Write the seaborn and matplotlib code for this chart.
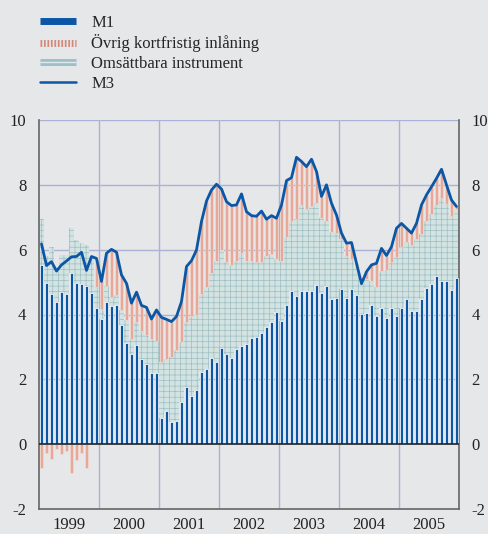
import numpy as np
import matplotlib
matplotlib.use("Agg")
import matplotlib.pyplot as plt
from matplotlib.lines import Line2D
import seaborn as sns

# monthly, Jan 1999 - Dec 2005, annual percentage change
years = ["1999", "2000", "2001", "2002", "2003", "2004", "2005"]

m1 = [5.53, 4.96, 4.64, 4.40, 4.68, 4.62, 5.29, 4.98, 4.94, 4.89, 4.66, 4.21,
      3.86, 4.38, 4.27, 4.30, 3.68, 3.11, 2.77, 3.06, 2.62, 2.47, 2.19, 2.21,
      0.82, 1.01, 0.68, 0.70, 1.29, 1.75, 1.49, 1.68, 2.24, 2.32, 2.65, 2.53,
      2.96, 2.79, 2.65, 2.93, 3.03, 3.08, 3.29, 3.32, 3.42, 3.60, 3.76, 4.07,
      3.81, 4.28, 4.71, 4.57, 4.74, 4.74, 4.73, 4.91, 4.65, 4.89, 4.47, 4.52,
      4.79, 4.52, 4.79, 4.60, 4.03, 4.05, 4.30, 3.96, 4.19, 3.88, 4.21, 3.94,
      4.21, 4.47, 4.12, 4.12, 4.48, 4.81, 4.94, 5.19, 5.02, 5.04, 4.76, 5.14]

omsattbara = [1.41, 0.83, 1.45, 1.08, 1.16, 1.23, 1.37, 1.32, 1.26, 1.24, 1.13, 0.63,
              0.30, 0.51, 0.28, 0.30, 0.46, 0.72, 0.48, 0.70, 0.87, 0.90, 1.06, 0.98,
              1.73, 1.61, 2.02, 2.21, 1.85, 2.03, 2.45, 2.31, 2.40, 2.52, 2.62, 3.13,
              3.03, 2.82, 2.88, 2.73, 2.86, 2.58, 2.37, 2.29, 2.21, 2.22, 2.10, 1.64,
              1.85, 2.12, 2.18, 2.38, 2.64, 2.51, 2.62, 2.52, 2.32, 2.00, 2.07, 1.99,
              1.54, 1.27, 0.92, 0.83, 0.92, 1.05, 0.72, 0.88, 1.15, 1.50, 1.42, 1.82,
              1.88, 1.78, 2.01, 2.21, 2.01, 2.08, 2.15, 2.19, 2.56, 2.36, 2.28, 2.11]

ovrig = [-0.74, -0.28, -0.46, -0.15, -0.30, -0.20, -0.88, -0.50, -0.28, -0.75, 0.00, 0.89,
         0.86, 1.00, 1.46, 1.32, 1.08, 1.13, 1.10, 0.93, 0.79, 0.85, 0.61, 0.95,
         1.36, 1.23, 1.08, 1.03, 1.26, 1.70, 1.72, 2.00, 2.23, 2.66, 2.57, 2.36,
         1.88, 1.87, 1.83, 1.72, 1.83, 1.51, 1.39, 1.42, 1.56, 1.12, 1.19, 1.26,
         1.72, 1.73, 1.33, 1.90, 1.34, 1.31, 1.44, 0.98, 0.67, 1.11, 0.89, 0.56,
         0.18, 0.41, 0.51, 0.15, 0.00, 0.22, 0.51, 0.74, 0.70, 0.44, 0.46, 0.90,
         0.72, 0.41, 0.38, 0.48, 0.89, 0.80, 0.85, 0.82, 0.90, 0.60, 0.49, 0.08]

m3 = [6.18, 5.51, 5.63, 5.34, 5.53, 5.65, 5.78, 5.79, 5.92, 5.36, 5.79, 5.73,
      5.02, 5.89, 6.01, 5.92, 5.22, 4.96, 4.35, 4.69, 4.28, 4.22, 3.86, 4.14,
      3.91, 3.85, 3.78, 3.94, 4.40, 5.48, 5.66, 5.99, 6.87, 7.50, 7.84, 8.02,
      7.87, 7.48, 7.36, 7.38, 7.72, 7.17, 7.05, 7.03, 7.19, 6.94, 7.05, 6.97,
      7.38, 8.13, 8.22, 8.85, 8.72, 8.56, 8.79, 8.41, 7.64, 8.00, 7.43, 7.07,
      6.51, 6.20, 6.22, 5.58, 4.95, 5.32, 5.53, 5.58, 6.04, 5.82, 6.09, 6.66,
      6.81, 6.66, 6.51, 6.81, 7.38, 7.69, 7.94, 8.20, 8.48, 8.00, 7.53, 7.33]

bg = "#e6e7e9"
blue = "#0b57a6"
salmon = "#e6a999"
darkred = "#c8553f"
teal = "#d3e3e2"
gridc = "#aab3d6"

sns.set_style("white", {"axes.facecolor": bg, "figure.facecolor": bg})
plt.rcParams["font.family"] = ["Liberation Serif", "DejaVu Serif"]
plt.rcParams["axes.unicode_minus"] = False
plt.rcParams["hatch.linewidth"] = 0.5

fig = plt.figure(figsize=(4.88, 5.34), dpi=100)
ax = fig.add_axes([39 / 488, 1 - 509 / 534, 420 / 488, 389 / 534])

x = np.arange(len(m1))
m1 = np.array(m1)
oms = np.array(omsattbara)
ovr = np.array(ovrig)

# grid behind bars
for v in [2, 4, 6, 8, 10]:
    ax.axhline(v, color=gridc, lw=1, zorder=0)
for k in range(1, 7):
    ax.axvline(12 * k - 0.5, color=gridc, lw=1, zorder=0)

ax.bar(x, oms, width=0.9, bottom=m1, color=teal, hatch="+++",
       edgecolor="#9dbec2", linewidth=0, zorder=2)
ovr_bottom = np.where(ovr >= 0, m1 + oms, 0)
ax.bar(x, ovr, width=0.75, bottom=ovr_bottom, color=salmon,
       edgecolor="#f3ddd6", linewidth=0.4, zorder=2)
ax.bar(x - 0.12, ovr, width=0.14, bottom=ovr_bottom, color=darkred,
       alpha=0.55, linewidth=0, zorder=2)
ax.bar(x, m1, width=0.5, color=blue, edgecolor="white", linewidth=0.5, zorder=3)

sns.lineplot(x=x, y=m3, color=blue, lw=2, ax=ax, zorder=4)
ax.axhline(0, color="#222222", lw=1.2, zorder=5)

ax.set_xlim(-0.5, 83.5)
ax.set_ylim(-2, 10)
ax.set_yticks([-2, 0, 2, 4, 6, 8, 10])
ax.tick_params(axis="y", length=0, labelsize=12, labelleft=True, labelright=True,
               pad=9, colors="#222222")
ax.set_xticks([12 * k - 0.5 for k in range(8)])
ax.set_xticklabels([])
ax.set_xticks([12 * k + 5.5 for k in range(7)], minor=True)
ax.set_xticklabels(years, minor=True)
ax.tick_params(axis="x", which="major", direction="out", length=5, color="#444444")
ax.tick_params(axis="x", which="minor", length=0, labelsize=12, pad=6, colors="#222222")
ax.set_xlabel("")
ax.set_ylabel("")

for s in ["left", "right", "bottom"]:
    ax.spines[s].set_color("#666666")
    ax.spines[s].set_linewidth(1.2)
ax.spines["top"].set_visible(False)

handles = [
    Line2D([], [], color=blue, lw=5, solid_capstyle="butt"),
    Line2D([], [], color="#d4887a", lw=5, linestyle=(0, (0.25, 0.25))),
    (Line2D([], [], color="#9ebfc6", lw=5, solid_capstyle="butt"),
     Line2D([], [], color="#e0ecec", lw=1, solid_capstyle="butt")),
    Line2D([], [], color=blue, lw=1.8),
]
labels = ["M1", "Övrig kortfristig inlåning", "Omsättbara instrument", "M3"]
fig.legend(handles, labels, loc="upper left", bbox_to_anchor=(28 / 488, 1 - 3 / 534),
           frameon=False, fontsize=12, handlelength=2.2, handletextpad=0.9,
           labelspacing=0.22, borderpad=0.2)

fig.savefig("out.png", dpi=100, facecolor=bg)
